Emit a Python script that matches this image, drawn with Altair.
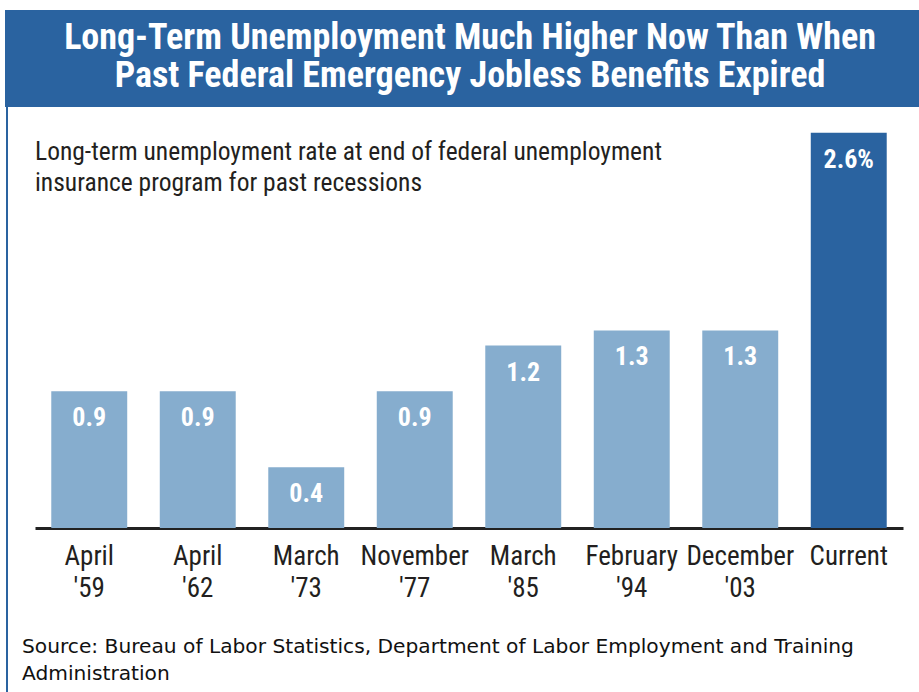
import altair as alt
import pandas as pd

months = ["April", "April", "March", "November", "March", "February", "December", "Current"]
years = ["'59", "'62", "'73", "'77", "'85", "'94", "'03", ""]
values = [0.9, 0.9, 0.4, 0.9, 1.2, 1.3, 1.3, 2.6]
value_labels = ["0.9", "0.9", "0.4", "0.9", "1.2", "1.3", "1.3", "2.6%"]
is_current = [False, False, False, False, False, False, False, True]

title_text = "Long-Term Unemployment Much Higher Now Than When\nPast Federal Emergency Jobless Benefits Expired"
subtitle_text = "Long-term unemployment rate at end of federal unemployment\ninsurance program for past recessions"
source_text = "Source: Bureau of Labor Statistics, Department of Labor Employment and Training\nAdministration"

cats = [(m + " " + y).strip() for m, y in zip(months, years)]
df = pd.DataFrame({"cat": cats, "value": values, "label": value_labels, "current": is_current})
one = pd.DataFrame({"k": [0]})

W, H = 868, 418
NARROW = "Roboto Condensed"
BLUE = "#2A63A0"
LIGHT = "#86ADCE"

x = alt.X(
    "cat:N", sort=cats,
    scale=alt.Scale(paddingInner=0.3, paddingOuter=0.15),
    axis=alt.Axis(
        title=None, labelExpr="split(datum.label, ' ')", ticks=False,
        domainWidth=3, domainColor="#222222", labelFont=NARROW, labelFontSize=27,
        labelColor="#231F20", labelLineHeight=32, labelPadding=15, labelAngle=0,
        labelBaseline="top",
    ),
)
y = alt.Y("value:Q", scale=alt.Scale(domain=[0, 2.75]), axis=None)

bars = alt.Chart(df).mark_bar().encode(
    x=x, y=y,
    color=alt.condition(alt.datum.current, alt.value(BLUE), alt.value(LIGHT)),
)
labels = alt.Chart(df).mark_text(
    baseline="middle", dy=27, color="white", fontWeight="bold", fontSize=26, font=NARROW
).encode(x=x, y=y, text="label:N")

header = alt.Chart(one).mark_rect(color=BLUE).encode(
    x=alt.value(-30), x2=alt.value(W + 16), y=alt.value(-100), y2=alt.value(-3)
)
border = alt.Chart(one).mark_rule(color=BLUE, strokeWidth=2).encode(
    x=alt.value(-28), y=alt.value(-3), y2=alt.value(H + 164)
)
title = alt.Chart(one).mark_text(
    text=title_text, lineBreak="\n", lineHeight=38, align="center", baseline="middle",
    color="white", fontWeight="bold", fontSize=36, font=NARROW,
).encode(x=alt.value(435), y=alt.value(-72))
subtitle = alt.Chart(one).mark_text(
    text=subtitle_text, lineBreak="\n", lineHeight=31, align="left", baseline="alphabetic",
    color="#231F20", fontSize=25.5, font=NARROW,
).encode(x=alt.value(0), y=alt.value(50))
source = alt.Chart(one).mark_text(
    text=source_text, lineBreak="\n", lineHeight=27, align="left", baseline="alphabetic",
    color="#111111", fontSize=20.2, font="DejaVu Sans",
).encode(x=alt.value(-13), y=alt.value(H + 125))

chart = alt.layer(header, border, title, subtitle, bars, labels, source).properties(
    width=W, height=H,
    autosize=alt.AutoSizeParams(type="none"),
    padding={"left": 35, "top": 110, "right": 16, "bottom": 164},
    background="white",
).configure_view(stroke=None)

chart.save("out.html", embed_options={"renderer": "svg", "actions": False})
